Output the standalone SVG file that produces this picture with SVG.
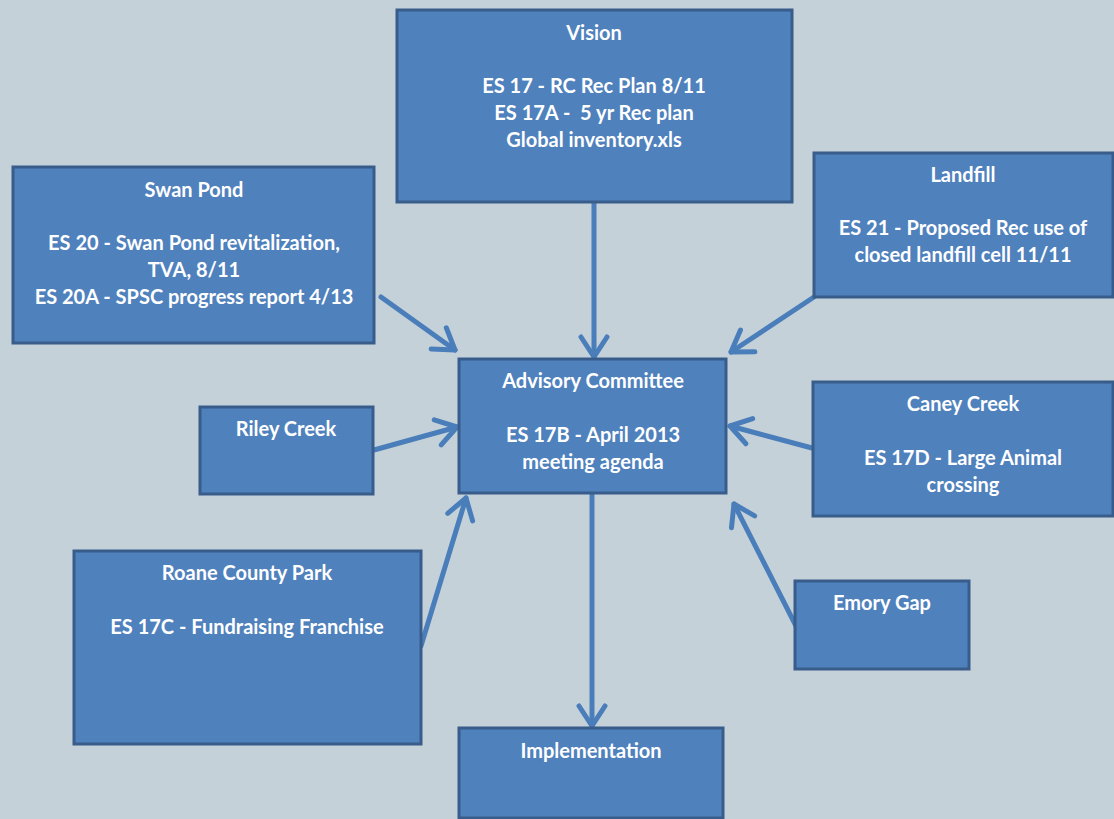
<svg xmlns="http://www.w3.org/2000/svg" width="1114" height="819" viewBox="0 0 1114 819">
<defs>
<style>
.box{fill:#4F81BD;stroke:#385D8A;stroke-width:3}
.t{font-family:Lato,"Liberation Sans",sans-serif;font-weight:bold;font-size:20px;fill:#FFFFFF;text-anchor:middle;white-space:pre}
.c{stroke:#4A7EBB;stroke-width:5;fill:none;stroke-linecap:round}
</style>
<marker id="arr" markerUnits="userSpaceOnUse" viewBox="-26 -16 30 32" refX="0" refY="0" markerWidth="30" markerHeight="32" orient="auto" overflow="visible">
<path d="M -20 -13 L 0 0 L -20 13" fill="none" stroke="#4A7EBB" stroke-width="5" stroke-linecap="round" stroke-linejoin="round"/>
</marker>
</defs>
<rect width="1114" height="819" fill="#C5D1D8"/>
<g id="connectors">
<line class="c" x1="594" y1="203" x2="594" y2="357" marker-end="url(#arr)"/>
<line class="c" x1="381" y1="297" x2="455" y2="350" marker-end="url(#arr)"/>
<line class="c" x1="814" y1="297" x2="731" y2="352" marker-end="url(#arr)"/>
<line class="c" x1="374" y1="450" x2="457" y2="427" marker-end="url(#arr)"/>
<line class="c" x1="812" y1="448" x2="730" y2="426" marker-end="url(#arr)"/>
<line class="c" x1="421" y1="646" x2="466" y2="498" marker-end="url(#arr)"/>
<line class="c" x1="796" y1="626" x2="734" y2="504" marker-end="url(#arr)"/>
<line class="c" x1="592" y1="495" x2="592" y2="726" marker-end="url(#arr)"/>
</g>
<g id="vision">
<rect class="box" x="397" y="10" width="395" height="192"/>
<text class="t" x="594" y="40">Vision</text>
<text class="t" x="594" y="93">ES 17 - RC Rec Plan 8/11</text>
<text class="t" x="594" y="120" xml:space="preserve">ES 17A -  5 yr Rec plan</text>
<text class="t" x="594" y="147">Global inventory.xls</text>
</g>
<g id="swan-pond">
<rect class="box" x="13" y="167" width="361" height="176"/>
<text class="t" x="194" y="197">Swan Pond</text>
<text class="t" x="194" y="250">ES 20 - Swan Pond revitalization,</text>
<text class="t" x="194" y="277">TVA, 8/11</text>
<text class="t" x="194" y="304">ES 20A - SPSC progress report 4/13</text>
</g>
<g id="landfill">
<rect class="box" x="814" y="153" width="299" height="144"/>
<text class="t" x="963" y="182">Landfill</text>
<text class="t" x="963" y="235">ES 21 - Proposed Rec use of</text>
<text class="t" x="963" y="262">closed landfill cell 11/11</text>
</g>
<g id="advisory-committee">
<rect class="box" x="459" y="359" width="267" height="134"/>
<text class="t" x="593" y="388">Advisory Committee</text>
<text class="t" x="593" y="442">ES 17B - April 2013</text>
<text class="t" x="593" y="469">meeting agenda</text>
</g>
<g id="riley-creek">
<rect class="box" x="200" y="407" width="173" height="87"/>
<text class="t" x="286" y="436">Riley Creek</text>
</g>
<g id="caney-creek">
<rect class="box" x="813" y="382" width="300" height="134"/>
<text class="t" x="963" y="411">Caney Creek</text>
<text class="t" x="963" y="465">ES 17D - Large Animal</text>
<text class="t" x="963" y="492">crossing</text>
</g>
<g id="roane-county-park">
<rect class="box" x="74" y="551" width="347" height="193"/>
<text class="t" x="247" y="580">Roane County Park</text>
<text class="t" x="247" y="634">ES 17C - Fundraising Franchise</text>
</g>
<g id="emory-gap">
<rect class="box" x="795" y="581" width="174" height="88"/>
<text class="t" x="882" y="610">Emory Gap</text>
</g>
<g id="implementation">
<rect class="box" x="459" y="728" width="264" height="90"/>
<text class="t" x="591" y="758">Implementation</text>
</g>
</svg>
